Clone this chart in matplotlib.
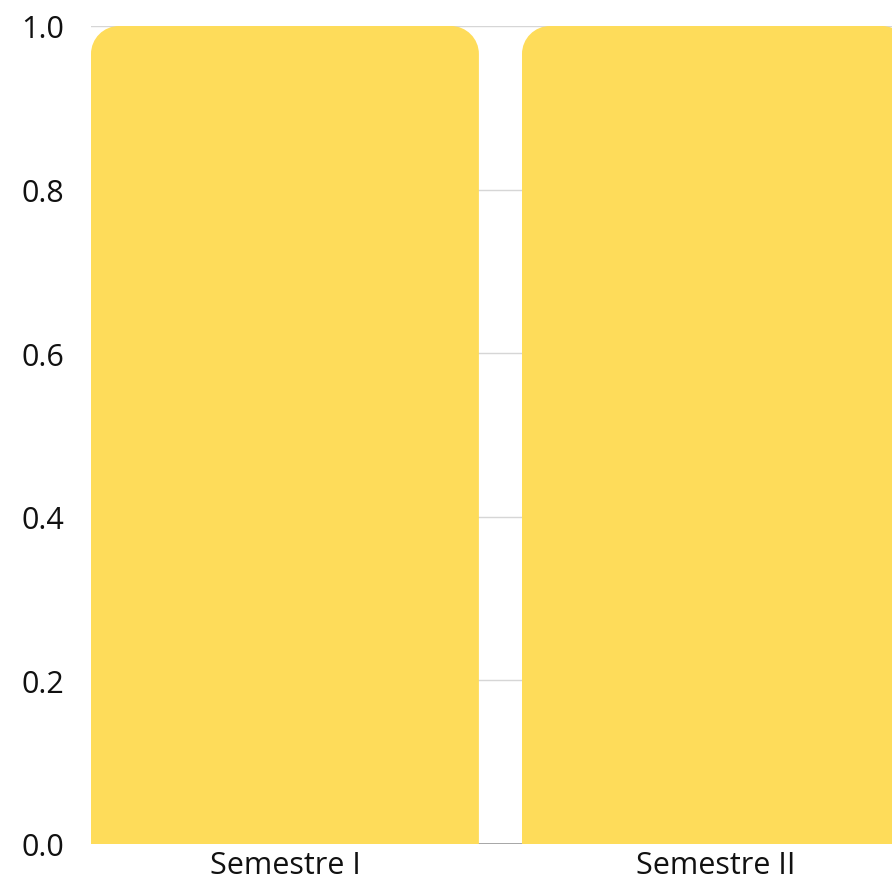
import matplotlib
matplotlib.use("Agg")
import matplotlib.pyplot as plt
from matplotlib.path import Path
from matplotlib.patches import PathPatch

categories = ["Semestre I", "Semestre II"]
values = [1.0, 1.0]
yticks = [0.0, 0.2, 0.4, 0.6, 0.8, 1.0]
ytick_labels = ["0.0", "0.2", "0.4", "0.6", "0.8", "1.0"]

bar_color = "#FEDC5A"
W, H = 892, 887
fig = plt.figure(figsize=(W / 100, H / 100), dpi=100)
left_px, right_px, top_px, bottom_px = 91, 892, 27, 845
ax = fig.add_axes([left_px / W, (H - bottom_px) / H, (right_px - left_px) / W, (bottom_px - top_px) / H])

x = list(range(len(categories)))
bars = ax.bar(x, values, width=0.9, color=bar_color, zorder=2)
band_px = 431.0
ax.set_xlim(-0.45, -0.45 + (right_px - left_px) / band_px)
ax.set_ylim(0, 1.0)

# rounded top corners
r_px = 28
rx = r_px / band_px
ry = r_px / (bottom_px - top_px)
for rect in bars:
    x0, y0 = rect.get_x(), rect.get_y()
    w, h = rect.get_width(), rect.get_height()
    x1, y1 = x0 + w, y0 + h
    k = 0.5523
    verts = [
        (x0, y0), (x0, y1 - ry),
        (x0, y1 - ry + k * ry), (x0 + rx - k * rx, y1), (x0 + rx, y1),
        (x1 - rx, y1),
        (x1 - rx + k * rx, y1), (x1, y1 - ry + k * ry), (x1, y1 - ry),
        (x1, y0), (x0, y0),
    ]
    codes = [Path.MOVETO, Path.LINETO,
             Path.CURVE4, Path.CURVE4, Path.CURVE4,
             Path.LINETO,
             Path.CURVE4, Path.CURVE4, Path.CURVE4,
             Path.LINETO, Path.CLOSEPOLY]
    patch = PathPatch(Path(verts, codes), facecolor=bar_color, edgecolor="none", zorder=2)
    ax.add_patch(patch)
    rect.remove()

ax.set_yticks(yticks)
ax.set_yticklabels(ytick_labels)
ax.set_xticks(x)
ax.set_xticklabels(categories)
ax.yaxis.grid(True, color="#d6d6d6", linewidth=1, zorder=0)
ax.axhline(0, color="#999999", linewidth=1.2, zorder=1)
ax.set_axisbelow(True)
for s in ["top", "right", "left", "bottom"]:
    ax.spines[s].set_visible(False)
ax.tick_params(axis="both", length=0, labelsize=22, colors="#111111")
ax.tick_params(axis="y", pad=19.5)
ax.tick_params(axis="x", pad=4)
for lab in ax.get_xticklabels() + ax.get_yticklabels():
    lab.set_fontfamily("Open Sans")

fig.savefig("out.png", dpi=100)
